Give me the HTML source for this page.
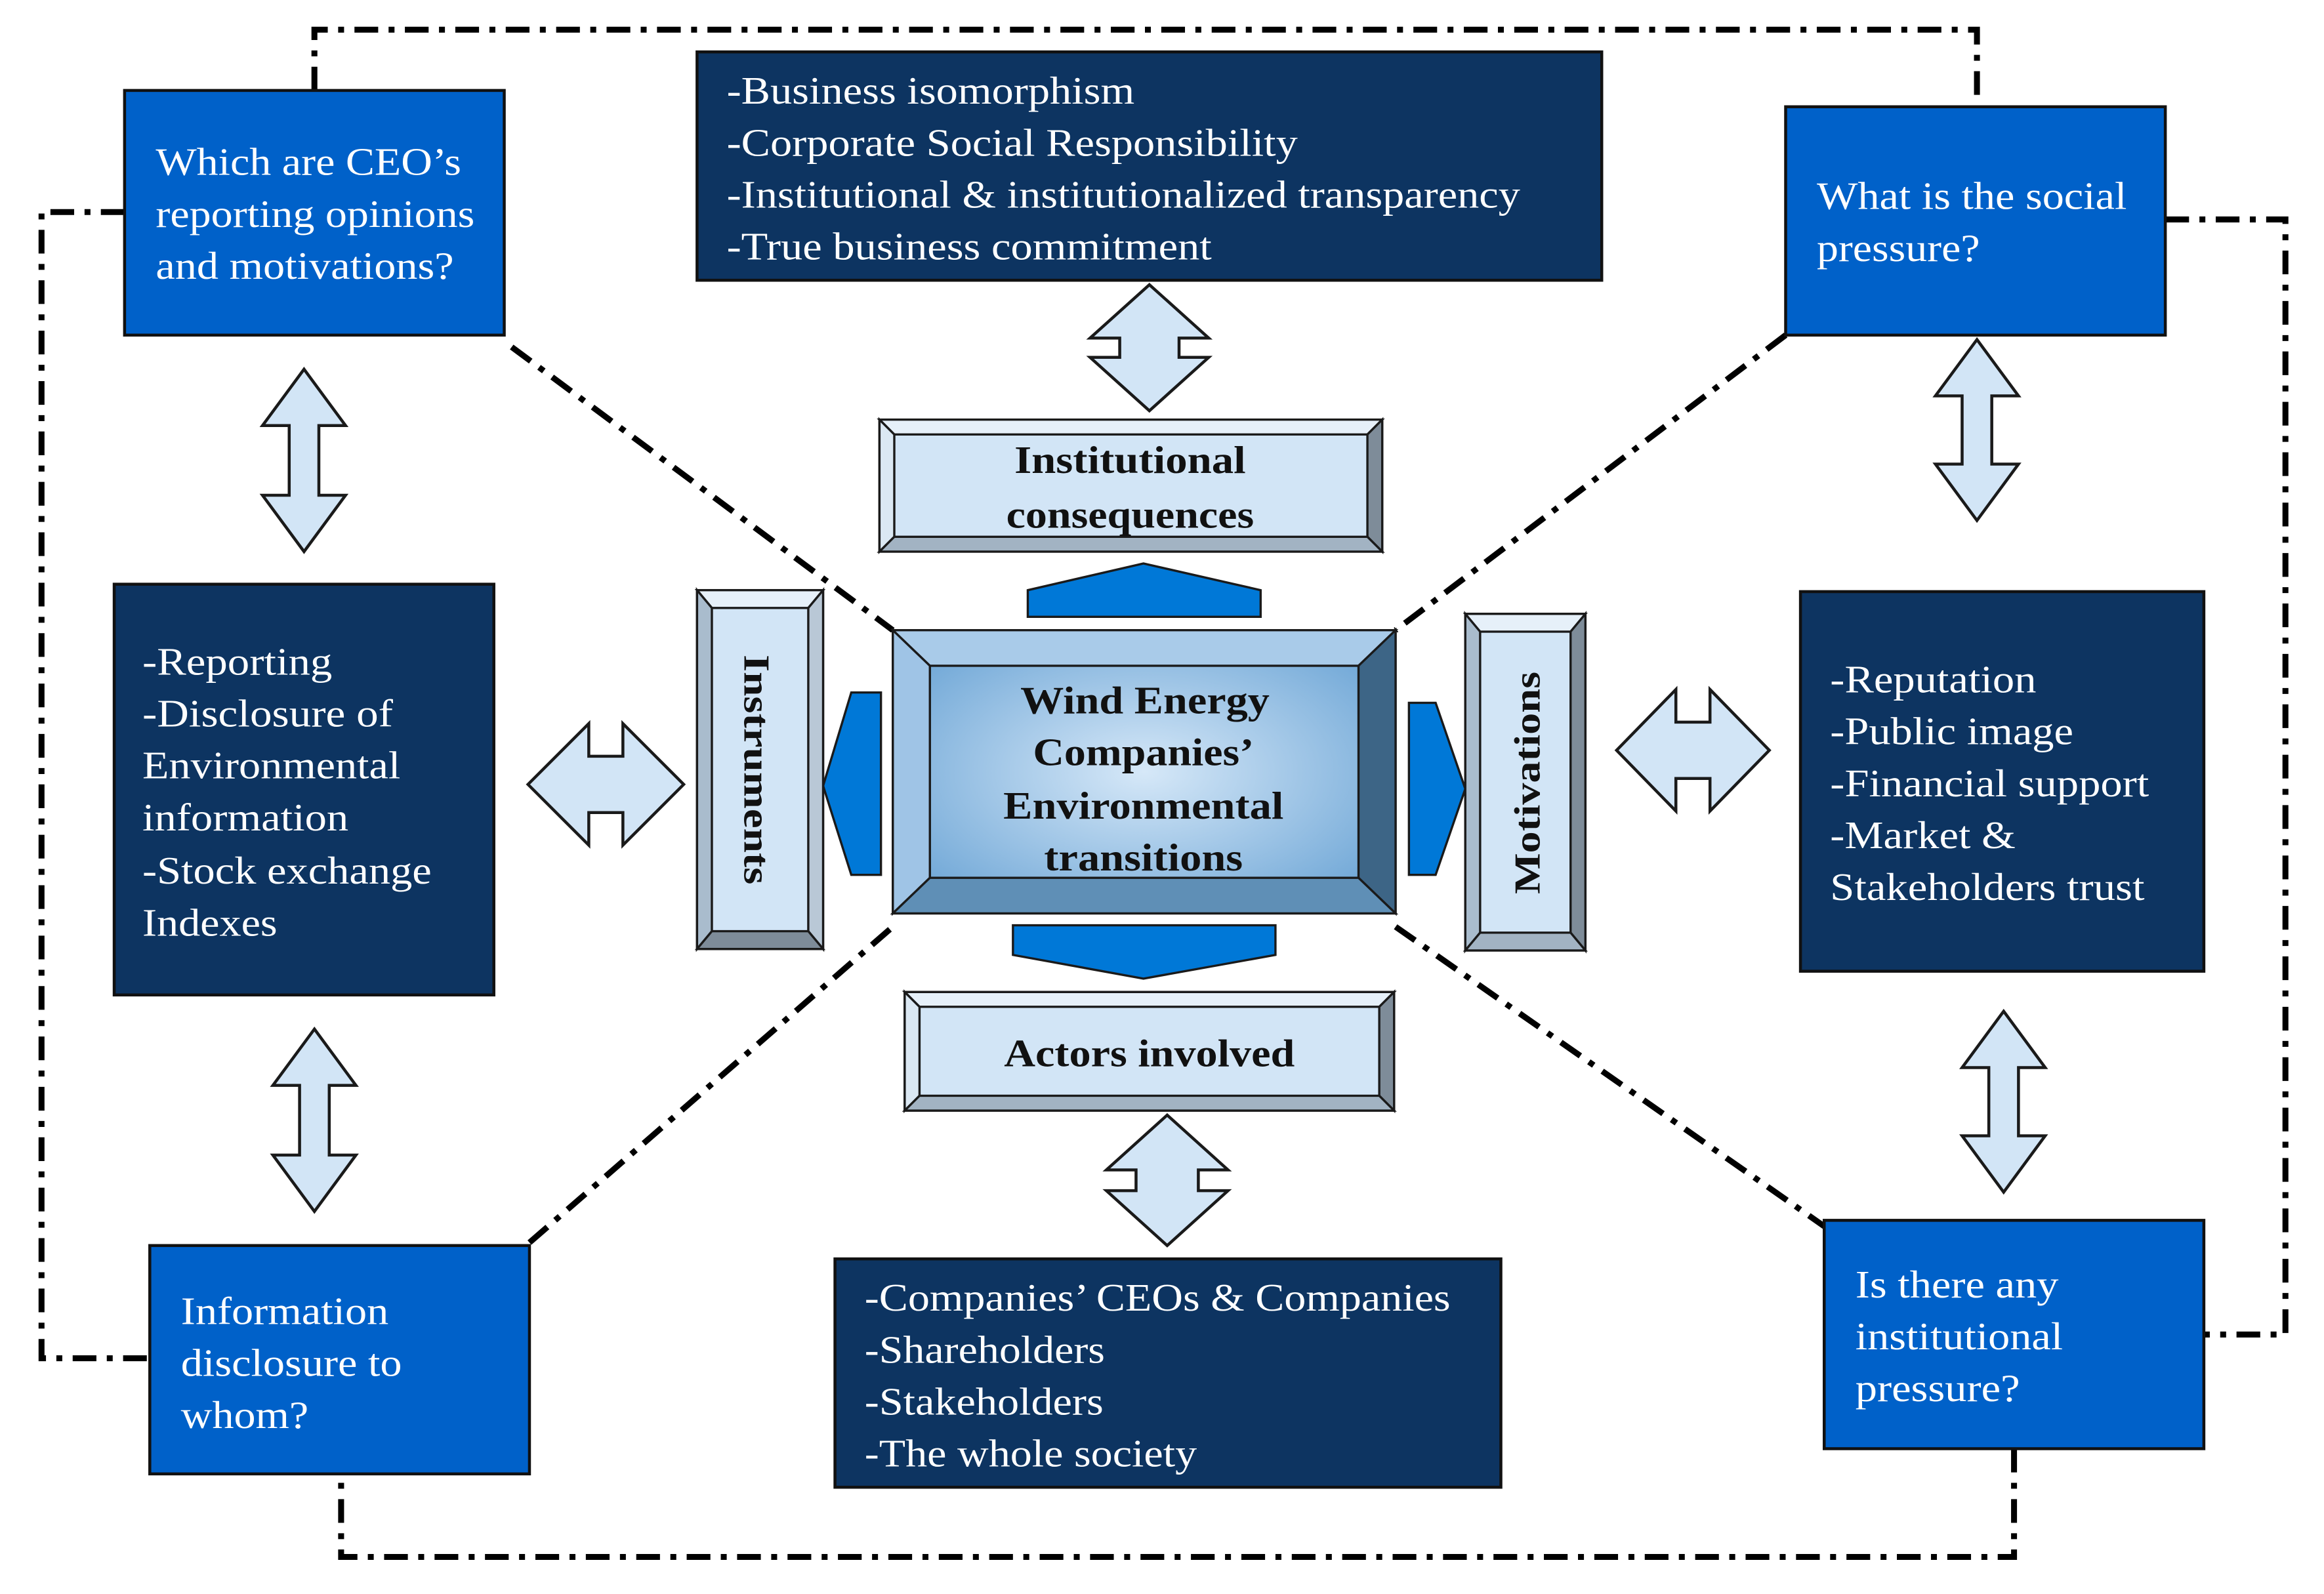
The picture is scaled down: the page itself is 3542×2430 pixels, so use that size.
<!DOCTYPE html>
<html><head><meta charset="utf-8"><style>html,body{margin:0;padding:0;background:#fff}svg{display:block}svg text{font-family:"Liberation Serif","Times New Roman","DejaVu Serif",serif}</style></head>
<body>
<svg width="3542" height="2430" viewBox="0 0 1567 1075" preserveAspectRatio="none" xmlns="http://www.w3.org/2000/svg">
<defs>
<radialGradient id="cg" cx="50%" cy="50%" r="60%"><stop offset="0" stop-color="#d6e8f8"/><stop offset="1" stop-color="#6ea6d6"/></radialGradient>
</defs>
<g fill="none" stroke="#000" stroke-width="4" stroke-dasharray="16 7 4 7">
<polyline points="212,61 212,20 1333,20 1333,72"/>
<polyline points="1460,148 1541,148 1541,900 1486,900"/>
<polyline points="1358,977 1358,1050 230,1050 230,994"/>
<polyline points="84,143 28,143 28,916 101,916"/>
<line x1="345" y1="234" x2="602" y2="425"/>
<line x1="1204" y1="226" x2="941" y2="425"/>
<line x1="357" y1="838" x2="602" y2="625"/>
<line x1="941" y1="625" x2="1230" y2="827"/>
</g>
<g stroke="#111" stroke-width="2">
<rect x="84" y="61" width="256" height="165" fill="#0061c9"/>
<rect x="1204" y="72" width="256" height="154" fill="#0061c9"/>
<rect x="101" y="840" width="256" height="154" fill="#0061c9"/>
<rect x="1230" y="823" width="256" height="154" fill="#0061c9"/>
<rect x="470" y="35" width="610" height="154" fill="#0d3461"/>
<rect x="77" y="394" width="256" height="277" fill="#0d3461"/>
<rect x="1214" y="399" width="272" height="256" fill="#0d3461"/>
<rect x="563" y="849" width="449" height="154" fill="#0d3461"/>
</g>
<g fill="#fff" font-size="26" lengthAdjust="spacingAndGlyphs">
<text x="105" y="118" textLength="206" lengthAdjust="spacingAndGlyphs">Which are CEO’s</text><text x="105" y="153" textLength="215" lengthAdjust="spacingAndGlyphs">reporting opinions</text><text x="105" y="188" textLength="201" lengthAdjust="spacingAndGlyphs">and motivations?</text>
<text x="1225" y="141" textLength="209" lengthAdjust="spacingAndGlyphs">What is the social</text><text x="1225" y="176" textLength="110" lengthAdjust="spacingAndGlyphs">pressure?</text>
<text x="122" y="893" textLength="140" lengthAdjust="spacingAndGlyphs">Information</text><text x="122" y="928" textLength="149" lengthAdjust="spacingAndGlyphs">disclosure to</text><text x="122" y="963" textLength="86" lengthAdjust="spacingAndGlyphs">whom?</text>
<text x="1251" y="875" textLength="137" lengthAdjust="spacingAndGlyphs">Is there any</text><text x="1251" y="910" textLength="140" lengthAdjust="spacingAndGlyphs">institutional</text><text x="1251" y="945" textLength="111" lengthAdjust="spacingAndGlyphs">pressure?</text>
<text x="490" y="70" textLength="275" lengthAdjust="spacingAndGlyphs">-Business isomorphism</text><text x="490" y="105" textLength="385" lengthAdjust="spacingAndGlyphs">-Corporate Social Responsibility</text><text x="490" y="140" textLength="535" lengthAdjust="spacingAndGlyphs">-Institutional &amp; institutionalized transparency</text><text x="490" y="175" textLength="327" lengthAdjust="spacingAndGlyphs">-True business commitment</text>
<text x="96" y="455" textLength="128" lengthAdjust="spacingAndGlyphs">-Reporting</text><text x="96" y="490" textLength="169" lengthAdjust="spacingAndGlyphs">-Disclosure of</text><text x="96" y="525" textLength="174" lengthAdjust="spacingAndGlyphs">Environmental</text><text x="96" y="560" textLength="139" lengthAdjust="spacingAndGlyphs">information</text><text x="96" y="596" textLength="195" lengthAdjust="spacingAndGlyphs">-Stock exchange</text><text x="96" y="631" textLength="91" lengthAdjust="spacingAndGlyphs">Indexes</text>
<text x="1234" y="467" textLength="139" lengthAdjust="spacingAndGlyphs">-Reputation</text><text x="1234" y="502" textLength="164" lengthAdjust="spacingAndGlyphs">-Public image</text><text x="1234" y="537" textLength="215" lengthAdjust="spacingAndGlyphs">-Financial support</text><text x="1234" y="572" textLength="125" lengthAdjust="spacingAndGlyphs">-Market &amp;</text><text x="1234" y="607" textLength="212" lengthAdjust="spacingAndGlyphs">Stakeholders trust</text>
<text x="583" y="884" textLength="395" lengthAdjust="spacingAndGlyphs">-Companies’ CEOs &amp; Companies</text><text x="583" y="919" textLength="162" lengthAdjust="spacingAndGlyphs">-Shareholders</text><text x="583" y="954" textLength="161" lengthAdjust="spacingAndGlyphs">-Stakeholders</text><text x="583" y="989" textLength="224" lengthAdjust="spacingAndGlyphs">-The whole society</text>
</g>
<g fill="#d2e5f6" stroke="#1a1a1a" stroke-width="2">
<polygon points="205,249 233,287 215,287 215,334 233,334 205,372 177,334 195,334 195,287 177,287"/>
<polygon points="212,694 240,732 222,732 222,779 240,779 212,817 184,779 202,779 202,732 184,732"/>
<polygon points="1333,229 1361,267 1343,267 1343,313 1361,313 1333,351 1305,313 1323,313 1323,267 1305,267"/>
<polygon points="1351,682 1379,720 1361,720 1361,766 1379,766 1351,804 1323,766 1341,766 1341,720 1323,720"/>
<polygon points="775,192 815,228 795,228 795,241 815,241 775,277 735,241 755,241 755,228 735,228"/>
<polygon points="787,752 828,789 808,789 808,803 828,803 787,840 746,803 766,803 766,789 746,789"/>
<polygon points="356,529 397,488 397,510 420,510 420,488 461,529 420,570 420,548 397,548 397,570"/>
<polygon points="1090,506 1130,465 1130,487 1153,487 1153,465 1193,506 1153,547 1153,525 1130,525 1130,547"/>
</g>
<g fill="#0078d7" stroke="#1a1a1a" stroke-width="1.5">
<polygon points="693,398 771,380 850,398 850,416 693,416"/>
<polygon points="683,624 860,624 860,644 771,660 683,644"/>
<polygon points="594,467 594,590 574,590 555,530 574,467"/>
<polygon points="950,474 968,474 988,532 968,590 950,590"/>
</g>
<g stroke="#1a1a1a" stroke-width="1.5">
<rect x="593" y="283" width="339" height="89" fill="#d2e5f6"/>
<polygon points="593,283 932,283 922,293 603,293" fill="#e6f0f9"/>
<polygon points="593,283 603,293 603,362 593,372" fill="#dbe8f3"/>
<polygon points="932,283 932,372 922,362 922,293" fill="#7e8c99"/>
<polygon points="593,372 932,372 922,362 603,362" fill="#a2b3c3"/>
<rect x="610" y="669" width="330" height="80" fill="#d2e5f6"/>
<polygon points="610,669 940,669 930,679 620,679" fill="#e6f0f9"/>
<polygon points="610,669 620,679 620,739 610,749" fill="#dbe8f3"/>
<polygon points="940,669 940,749 930,739 930,679" fill="#7e8c99"/>
<polygon points="610,749 940,749 930,739 620,739" fill="#a2b3c3"/>
<rect x="470" y="398" width="85" height="242" fill="#d2e5f6"/>
<polygon points="470,398 555,398 545,410 480,410" fill="#e6f0f9"/>
<polygon points="470,398 480,410 480,628 470,640" fill="#a9bccd"/>
<polygon points="555,398 555,640 545,628 545,410" fill="#b9c8d6"/>
<polygon points="470,640 555,640 545,628 480,628" fill="#7e8c99"/>
<rect x="988" y="414" width="81" height="227" fill="#d2e5f6"/>
<polygon points="988,414 1069,414 1059,426 998,426" fill="#e6f0f9"/>
<polygon points="988,414 998,426 998,629 988,641" fill="#a9bccd"/>
<polygon points="1069,414 1069,641 1059,629 1059,426" fill="#7e8c99"/>
<polygon points="988,641 1069,641 1059,629 998,629" fill="#a2b3c3"/>
<rect x="602" y="425" width="339" height="191" fill="url(#cg)"/>
<polygon points="602,425 941,425 916,449 627,449" fill="#a9cbe9"/>
<polygon points="602,425 627,449 627,592 602,616" fill="#9fc4e6"/>
<polygon points="941,425 941,616 916,592 916,449" fill="#3d6586"/>
<polygon points="602,616 941,616 916,592 627,592" fill="#5f8fb6"/>
</g>
<g font-weight="bold" fill="#111" text-anchor="middle" font-size="26">
<text x="762" y="319" textLength="156" lengthAdjust="spacingAndGlyphs">Institutional</text>
<text x="762" y="356" textLength="167" lengthAdjust="spacingAndGlyphs">consequences</text>
<text x="775" y="719" textLength="196" lengthAdjust="spacingAndGlyphs">Actors involved</text>
<text x="772" y="481" textLength="168" lengthAdjust="spacingAndGlyphs">Wind Energy</text>
<text x="771" y="516" textLength="149" lengthAdjust="spacingAndGlyphs">Companies’</text>
<text x="771" y="552" textLength="189" lengthAdjust="spacingAndGlyphs">Environmental</text>
<text x="771" y="587" textLength="134" lengthAdjust="spacingAndGlyphs">transitions</text>
<text transform="translate(502,519) rotate(90)" font-size="25" textLength="155" lengthAdjust="spacingAndGlyphs">Instruments</text>
<text transform="translate(1038,528) rotate(-90)" font-size="25" textLength="150" lengthAdjust="spacingAndGlyphs">Motivations</text>
</g>
</svg>
</body></html>
